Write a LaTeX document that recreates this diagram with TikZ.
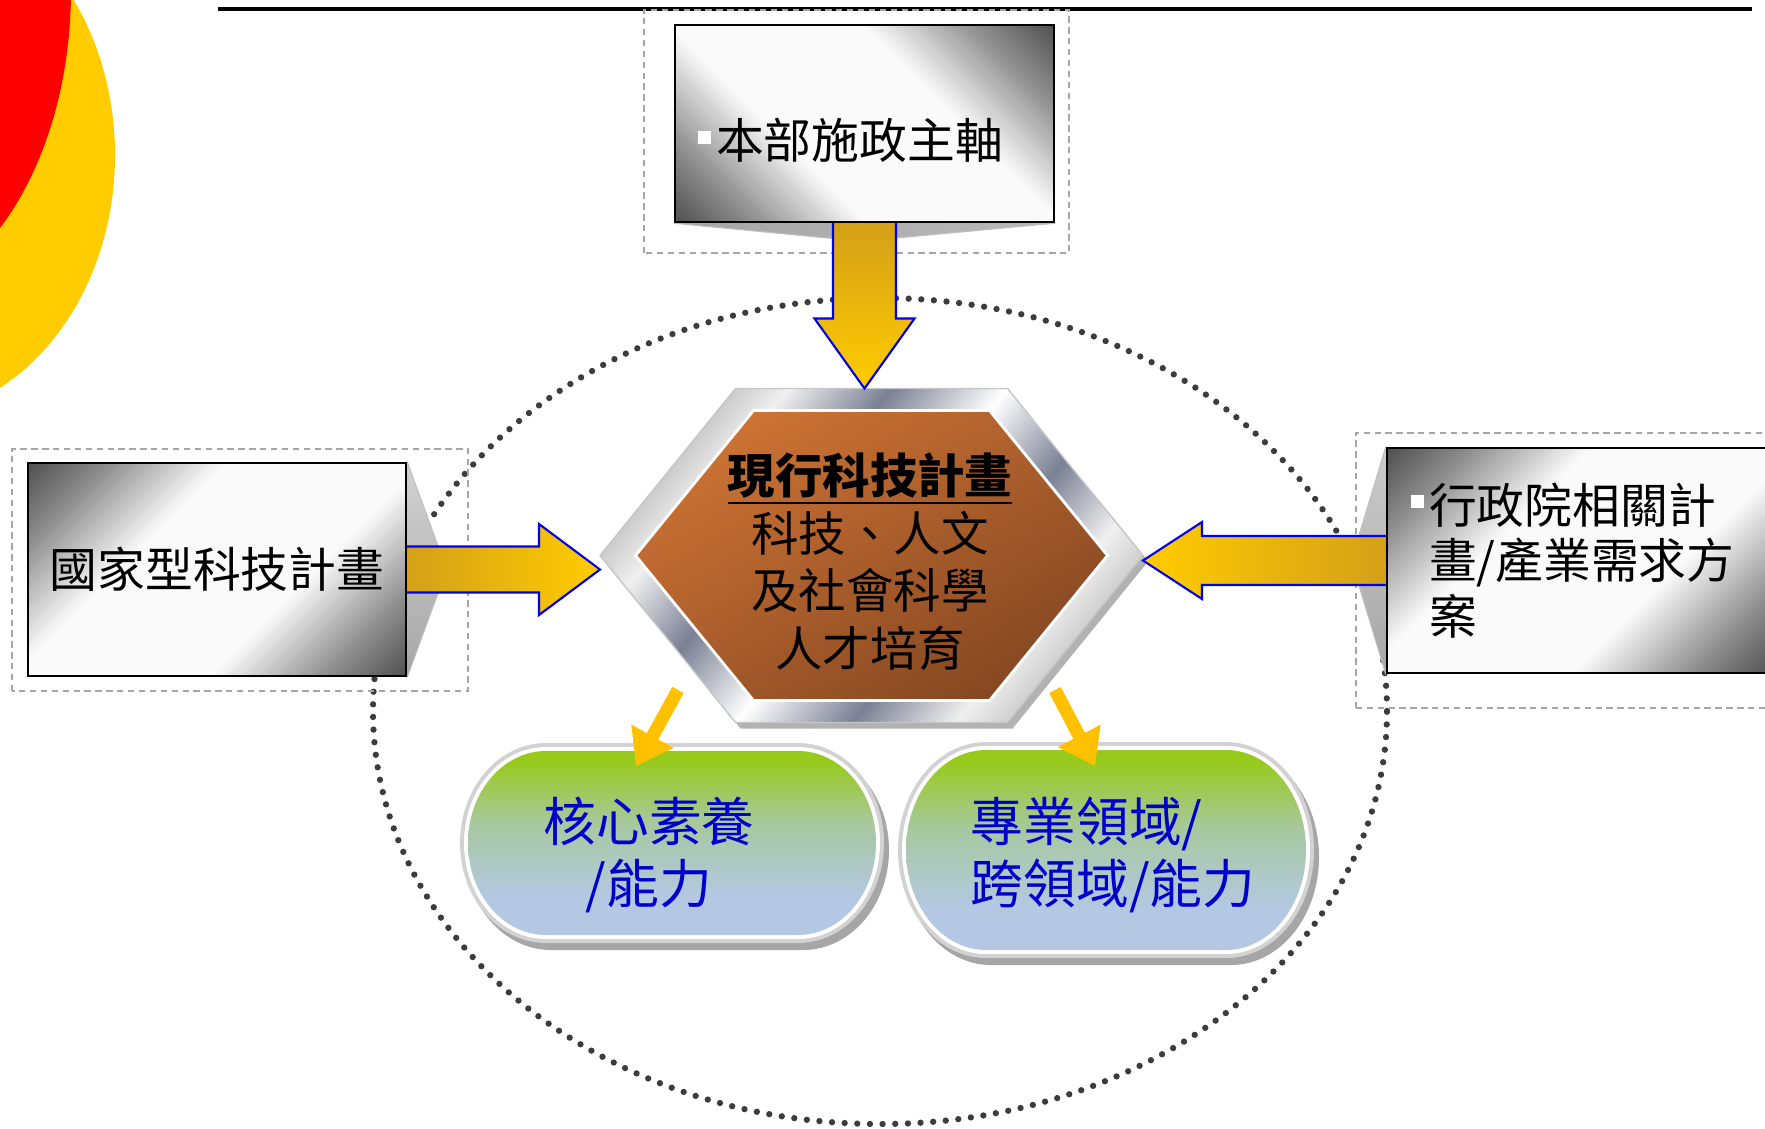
\documentclass[tikz,border=0pt]{standalone}
\usepackage{fontspec}
\usepackage{xcolor}
\usepackage{tikz}
\usetikzlibrary{calc,arrows.meta,backgrounds}
\newfontfamily\cjk{Noto Sans CJK TC}

\definecolor{sunred}{RGB}{255,0,0}
\definecolor{sunyellow}{RGB}{255,204,0}
\definecolor{goldtop}{RGB}{212,160,23}
\definecolor{goldtip}{RGB}{255,204,0}
\definecolor{arrowrim}{RGB}{0,0,235}
\definecolor{dropgold}{RGB}{255,192,0}
\definecolor{hexhi}{RGB}{204,114,52}
\definecolor{hexlo}{RGB}{134,72,34}
\definecolor{steelband}{RGB}{122,128,148}
\definecolor{pillgreen}{RGB}{152,202,30}
\definecolor{pillmid}{RGB}{168,200,160}
\definecolor{pillblue}{RGB}{180,200,228}
\definecolor{pillink}{RGB}{0,0,204}
\definecolor{dotgray}{RGB}{60,60,60}

\pgfdeclarehorizontalshading{steel}{100bp}{color(0bp)=(black!75); color(12bp)=(black!75); color(24bp)=(black!45); color(38bp)=(white!96!gray); color(62bp)=(white!96!gray); color(76bp)=(black!45); color(88bp)=(black!75); color(100bp)=(black!75)}
\pgfdeclarehorizontalshading{chrome}{100bp}{color(0bp)=(gray!55); color(24bp)=(gray!55); color(31bp)=(white!88!gray); color(40bp)=(steelband); color(50bp)=(white); color(60bp)=(steelband); color(69bp)=(white!88!gray); color(76bp)=(gray!50); color(100bp)=(gray!50)}
\pgfdeclareverticalshading{meadow}{100bp}{color(0bp)=(pillblue); color(25bp)=(pillblue); color(35bp)=(pillblue); color(55bp)=(pillmid); color(72bp)=(pillgreen); color(100bp)=(pillgreen)}

\newcommand{\bul}{\textcolor{white}{\rule[0.15cm]{0.13cm}{0.13cm}}\hspace{0.05cm}}

% name, centre, half width, half height, end depth
\newcommand{\pill}[5]{%
  \coordinate (#1) at (#2);
  \begin{scope}[shift={(#1)}]
    \filldraw[gray!70, line width=0.16cm, shift={(0.05,-0.07)}] (-#3+#5,#4) -- (#3-#5,#4) arc[start angle=90,end angle=-90,x radius=#5,y radius=#4] -- (-#3+#5,-#4) arc[start angle=270,end angle=90,x radius=#5,y radius=#4] -- cycle;
    \draw[gray!35, line width=0.16cm] (-#3+#5,#4) -- (#3-#5,#4) arc[start angle=90,end angle=-90,x radius=#5,y radius=#4] -- (-#3+#5,-#4) arc[start angle=270,end angle=90,x radius=#5,y radius=#4] -- cycle;
    \draw[white, line width=0.08cm] (-#3+#5,#4) -- (#3-#5,#4) arc[start angle=90,end angle=-90,x radius=#5,y radius=#4] -- (-#3+#5,-#4) arc[start angle=270,end angle=90,x radius=#5,y radius=#4] -- cycle;
    \shade[shading=meadow] (-#3+#5,#4) -- (#3-#5,#4) arc[start angle=90,end angle=-90,x radius=#5,y radius=#4] -- (-#3+#5,-#4) arc[start angle=270,end angle=90,x radius=#5,y radius=#4] -- cycle;
  \end{scope}}

\begin{document}
\begin{tikzpicture}[
    steelbox/.style={shade, shading=steel, draw=black, line width=0.7pt, inner sep=0pt, font=\cjk\fontsize{13.6}{15.9}\selectfont},
    textframe/.style={draw=gray!70, line width=0.5pt, dash pattern=on 1.8pt off 1.3pt},
    callout/.style={draw=gray!50, line width=0.3pt},
    goldarrow/.style={draw=arrowrim, line width=0.6pt},
    droparrow/.style={draw=dropgold, line width=0.13cm, -{Triangle[length=0.34cm,width=0.46cm]}},
    hextext/.style={align=center, font=\cjk\fontsize{13.5}{16.4}\selectfont},
    pilltext/.style={text=pillink, font=\cjk\fontsize{15}{17.6}\selectfont}
  ]
    \useasboundingbox (0,0) rectangle (17.65,-11.28);
    \clip (0,0) rectangle (17.65,-11.28);

    % Corner ornament and rule
    \fill[sunyellow] (-1.00,-1.55) ellipse [x radius=2.15, y radius=2.63];
    \fill[sunred] (-1.30,0.10) ellipse [x radius=2.01, y radius=3.12];
    \draw[line width=0.9pt] (2.18,-0.09) -- (17.52,-0.09);

    % Input boxes
    \node[steelbox, shading angle=45, minimum width=3.79cm, minimum height=1.97cm, text width=3.33cm, inner xsep=0.23cm, align=left] (axis) at (8.645,-1.235) {\raisebox{-0.17cm}[\height][\depth]{\bul 本部施政主軸}};
    \node[steelbox, shading angle=-45, minimum width=3.78cm, minimum height=2.13cm] (natl) at (2.17,-5.695) {國家型科技計畫};
    \node[steelbox, shading angle=-45, minimum width=3.88cm, minimum height=2.25cm, text width=3.40cm, inner xsep=0.24cm, align=left] (exec) at (15.81,-5.605) {\bul 行政院相關計\\\hspace*{0.18cm}畫/產業需求方\\\hspace*{0.18cm}案};

    \draw[textframe] ($(axis.south west)+(-0.30,-0.30)$) rectangle ($(axis.north east)+(0.14,0.14)$);
    \draw[textframe] ($(natl.south west)+(-0.145,-0.14)$) rectangle ($(natl.north east)+(0.61,0.13)$);
    \draw[textframe] ($(exec.south west)+(-0.30,-0.34)$) rectangle ($(exec.north east)+(0.10,0.14)$);

    % Dotted ring and callouts behind
    \begin{scope}[on background layer]
        \draw[dotgray, line width=1.8pt, line cap=round, dash pattern=on 0pt off 3.6pt] (8.80,-7.11) ellipse [x radius=5.07, y radius=4.13];
        \shade[callout, left color=gray!70, middle color=white, right color=gray!55] (axis.south east) -- ($(axis.south)+(0.29,-0.15)$) -- ($(axis.south)+(-0.345,-0.15)$) -- (axis.south west);
        \shade[callout, top color=gray!35, bottom color=gray!70] (natl.north east) -- ($(natl.east)+(0.31,0.23)$) -- ($(natl.east)+(0.31,-0.23)$) -- (natl.south east);
        \shade[callout, top color=gray!40, bottom color=gray!70] (exec.north west) -- ($(exec.west)+(-0.27,0.245)$) -- ($(exec.west)+(-0.27,-0.245)$) -- (exec.south west);
    \end{scope}

    % Hexagon
    \coordinate (hexc) at (8.715,-5.555);
    \begin{scope}[shift={(hexc)}]
        \fill[gray!60, shift={(0.05,-0.06)}] (-1.36,1.67) -- (1.36,1.67) -- (2.715,0) -- (1.36,-1.67) -- (-1.36,-1.67) -- (-2.715,0) -- cycle;
        \shade[shading=chrome, shading angle=-39, draw=gray!45, line width=0.4pt] (-1.36,1.67) -- (1.36,1.67) -- (2.715,0) -- (1.36,-1.67) -- (-1.36,-1.67) -- (-2.715,0) -- cycle;
        \shade[top color=hexhi, bottom color=hexlo, shading angle=30, draw=white, line width=0.8pt] (-1.18,1.45) -- (1.18,1.45) -- (2.36,0) -- (1.18,-1.45) -- (-1.18,-1.45) -- (-2.36,0) -- cycle;
    \end{scope}
    \coordinate (hexN) at ($(hexc)+(0,1.67)$);
    \coordinate (hexW) at ($(hexc)+(-2.715,0)$);
    \coordinate (hexE) at ($(hexc)+(2.715,0)$);
    \node[hextext] (hex) at ($(hexc)+(-0.015,-0.06)$) {\underline{\textbf{現行科技計畫}}\\科技、人文\\及社會科學\\人才培育};

    % Outcomes
    \pill{coreC}{6.72,-8.43}{2.04}{0.92}{0.78}
    \pill{domainC}{11.06,-8.50}{2.00}{1.00}{0.80}
    \node[pilltext, align=center] (core) at ($(coreC)+(-0.23,-0.12)$) {核心素養\\/能力};
    \node[pilltext, align=left] (domain) at ($(domainC)+(0.07,-0.05)$) {專業領域/\\跨領域/能力};

    % Block arrows
    \coordinate (tipN) at (axis.south |- hexN);
    \shade[goldarrow, top color=goldtop, bottom color=goldtip] ($(axis.south)+(-0.315,0)$) -- ($(tipN)+(-0.315,0.70)$) -- ($(tipN)+(-0.50,0.70)$) -- (tipN) -- ($(tipN)+(0.50,0.70)$) -- ($(tipN)+(0.315,0.70)$) -- ($(axis.south)+(0.315,0)$);
    \coordinate (tipW) at (natl.east -| hexW);
    \shade[goldarrow, left color=goldtop, right color=goldtip] ($(natl.east)+(0,0.23)$) -- ($(tipW)+(-0.61,0.23)$) -- ($(tipW)+(-0.61,0.455)$) -- (tipW) -- ($(tipW)+(-0.61,-0.455)$) -- ($(tipW)+(-0.61,-0.23)$) -- ($(natl.east)+(0,-0.23)$);
    \coordinate (tipE) at (exec.west -| hexE);
    \shade[goldarrow, left color=goldtip, right color=goldtop] ($(exec.west)+(0,0.245)$) -- ($(tipE)+(0.59,0.245)$) -- ($(tipE)+(0.59,0.385)$) -- (tipE) -- ($(tipE)+(0.59,-0.385)$) -- ($(tipE)+(0.59,-0.245)$) -- ($(exec.west)+(0,-0.245)$);

    \draw[droparrow] ($(hexc)+(-1.935,-1.345)$) -- ($(coreC)+(-0.36,0.77)$);
    \draw[droparrow] ($(hexc)+(1.835,-1.345)$) -- ($(domainC)+(-0.11,0.84)$);
\end{tikzpicture}
\end{document}
